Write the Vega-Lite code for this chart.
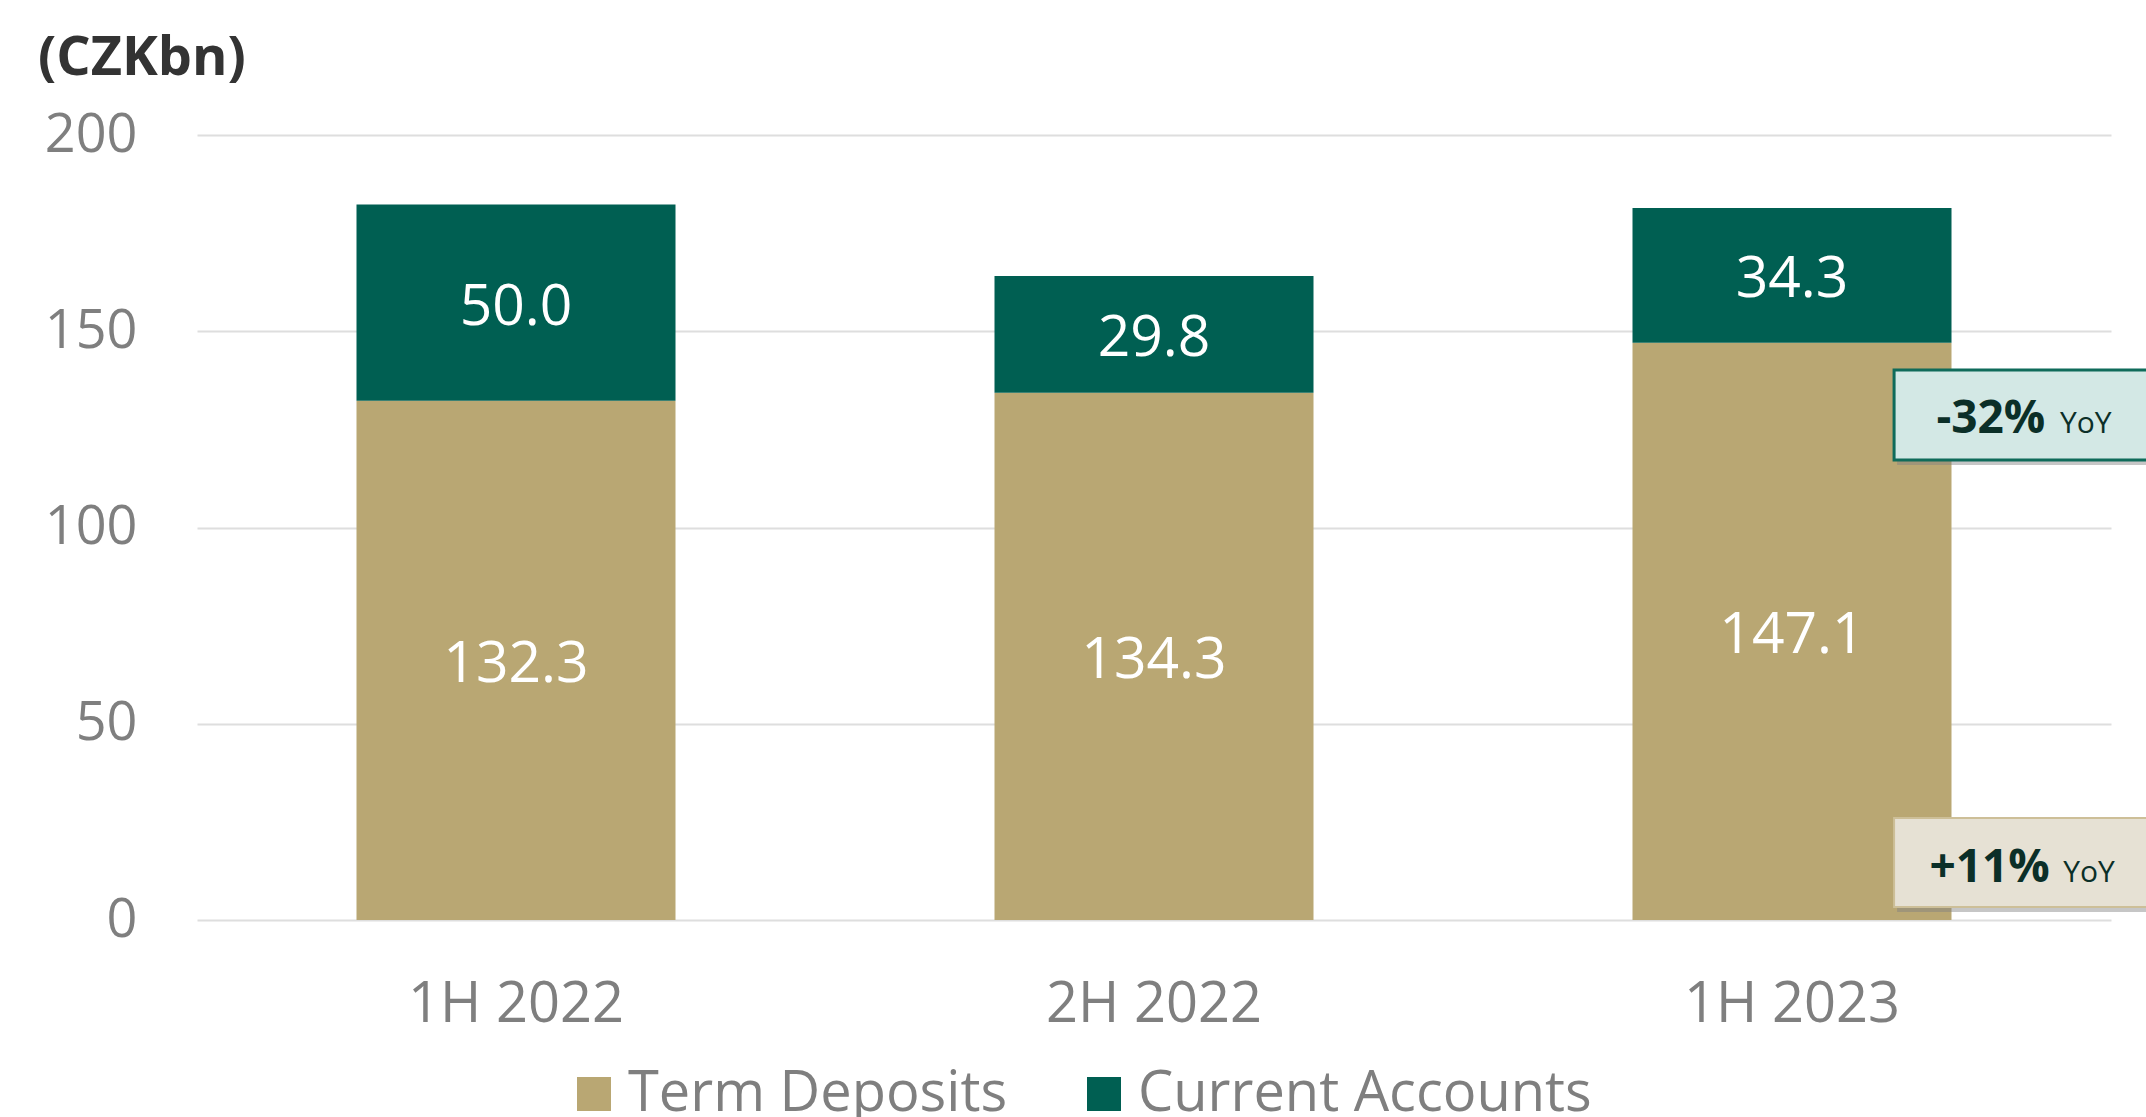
{
  "$schema": "https://vega.github.io/schema/vega-lite/v6.json",
  "width": 1914,
  "height": 785,
  "autosize": {"type": "none"},
  "padding": {"left": 197, "top": 135, "right": 35, "bottom": 197},
  "background": "white",
  "config": {
    "view": {"stroke": null},
    "font": "Open Sans",
    "text": {"font": "Open Sans"}
  },
  "title": {
    "text": "(CZKbn)",
    "anchor": "start",
    "frame": "group",
    "orient": "top",
    "dx": -159,
    "offset": 22,
    "fontSize": 54,
    "fontWeight": "bold",
    "font": "Open Sans",
    "color": "#333333"
  },
  "layer": [
    {
      "data": {
        "values": [
          {"period": "1H 2022", "series": "Term Deposits", "value": 132.3, "ord": 1},
          {"period": "1H 2022", "series": "Current Accounts", "value": 50.0, "ord": 2},
          {"period": "2H 2022", "series": "Term Deposits", "value": 134.3, "ord": 1},
          {"period": "2H 2022", "series": "Current Accounts", "value": 29.8, "ord": 2},
          {"period": "1H 2023", "series": "Term Deposits", "value": 147.1, "ord": 1},
          {"period": "1H 2023", "series": "Current Accounts", "value": 34.3, "ord": 2}
        ]
      },
      "transform": [
        {"stack": "value", "groupby": ["period"], "sort": [{"field": "ord", "order": "ascending"}], "as": ["v0", "v1"]},
        {"calculate": "(datum.v0 + datum.v1) / 2", "as": "vmid"}
      ],
      "encoding": {
        "x": {
          "field": "period",
          "type": "nominal",
          "sort": ["1H 2022", "2H 2022", "1H 2023"],
          "scale": {"paddingInner": 0.5, "paddingOuter": 0.25},
          "axis": {
            "title": null,
            "labelAngle": 0,
            "domain": false,
            "ticks": false,
            "labelFontSize": 56,
            "labelFont": "Open Sans",
            "labelColor": "#7f7f7f",
            "labelPadding": 57,
            "labelLimit": 1000
          }
        }
      },
      "layer": [
        {
          "mark": {"type": "bar"},
          "encoding": {
            "y": {
              "field": "v0",
              "type": "quantitative",
              "scale": {"domain": [0, 200], "nice": false},
              "axis": {
                "title": null,
                "values": [0, 50, 100, 150, 200],
                "domain": false,
                "ticks": false,
                "grid": true,
                "gridColor": "#dedede",
                "gridWidth": 2,
                "labelFontSize": 54,
                "labelFont": "Open Sans",
                "labelColor": "#7f7f7f",
                "labelPadding": 60,
                "labelLimit": 1000
              }
            },
            "y2": {"field": "v1"},
            "color": {
              "field": "series",
              "type": "nominal",
              "scale": {"domain": ["Term Deposits", "Current Accounts"], "range": ["#B9A773", "#005F52"]},
              "legend": {
                "title": null,
                "orient": "none",
                "legendX": 369,
                "legendY": 931,
                "direction": "horizontal",
                "symbolType": "square",
                "symbolSize": 1156,
                "symbolStrokeWidth": 0,
                "labelFontSize": 56,
                "labelFont": "Open Sans",
                "labelColor": "#7f7f7f",
                "labelOffset": 6,
                "columnPadding": 68,
                "labelLimit": 1000
              }
            }
          }
        },
        {
          "mark": {"type": "text", "color": "white", "fontSize": 57, "font": "Open Sans", "baseline": "middle", "align": "center", "dy": 5},
          "encoding": {
            "y": {"field": "vmid", "type": "quantitative"},
            "text": {"field": "value", "type": "quantitative", "format": ".1f"}
          }
        }
      ]
    },
    {
      "layer": [
        {
          "data": {"values": [{"change": "-32%", "unit": "YoY"}]},
          "layer": [
            {
              "mark": {"type": "rect", "fill": "#808080", "opacity": 0.45, "xOffset": 3, "yOffset": 5},
              "encoding": {
                "x": {"datum": 2.66, "type": "quantitative", "scale": {"domain": [0, 3], "nice": false, "zero": false}, "axis": null},
                "x2": {"datum": 3.3},
                "y": {"datum": 117.2, "type": "quantitative"},
                "y2": {"datum": 140.1}
              }
            },
            {
              "mark": {"type": "rect", "fill": "#D3E8E5", "stroke": "#0F6B5A", "strokeWidth": 3},
              "encoding": {
                "x": {"datum": 2.66, "type": "quantitative"},
                "x2": {"datum": 3.3},
                "y": {"datum": 117.2, "type": "quantitative"},
                "y2": {"datum": 140.1}
              }
            },
            {
              "mark": {"type": "text", "align": "right", "baseline": "alphabetic", "fontSize": 46, "fontWeight": "bold", "color": "#0B2F28", "font": "Open Sans"},
              "encoding": {
                "x": {"datum": 2.897, "type": "quantitative"},
                "y": {"datum": 124.1, "type": "quantitative"},
                "text": {"field": "change"}
              }
            },
            {
              "mark": {"type": "text", "align": "left", "baseline": "alphabetic", "fontSize": 30, "color": "#0B2F28", "font": "Open Sans"},
              "encoding": {
                "x": {"datum": 2.92, "type": "quantitative"},
                "y": {"datum": 124.1, "type": "quantitative"},
                "text": {"field": "unit"}
              }
            }
          ]
        },
        {
          "data": {"values": [{"change": "+11%", "unit": "YoY"}]},
          "layer": [
            {
              "mark": {"type": "rect", "fill": "#808080", "opacity": 0.45, "xOffset": 3, "yOffset": 5},
              "encoding": {
                "x": {"datum": 2.66, "type": "quantitative"},
                "x2": {"datum": 3.3},
                "y": {"datum": 3.3, "type": "quantitative"},
                "y2": {"datum": 26.0}
              }
            },
            {
              "mark": {"type": "rect", "fill": "#E6E1D4", "stroke": "#CDBF98", "strokeWidth": 2},
              "encoding": {
                "x": {"datum": 2.66, "type": "quantitative"},
                "x2": {"datum": 3.3},
                "y": {"datum": 3.3, "type": "quantitative"},
                "y2": {"datum": 26.0}
              }
            },
            {
              "mark": {"type": "text", "align": "right", "baseline": "alphabetic", "fontSize": 46, "fontWeight": "bold", "color": "#0B2F28", "font": "Open Sans"},
              "encoding": {
                "x": {"datum": 2.904, "type": "quantitative"},
                "y": {"datum": 9.7, "type": "quantitative"},
                "text": {"field": "change"}
              }
            },
            {
              "mark": {"type": "text", "align": "left", "baseline": "alphabetic", "fontSize": 30, "color": "#0B2F28", "font": "Open Sans"},
              "encoding": {
                "x": {"datum": 2.925, "type": "quantitative"},
                "y": {"datum": 9.7, "type": "quantitative"},
                "text": {"field": "unit"}
              }
            }
          ]
        }
      ]
    }
  ],
  "resolve": {"scale": {"x": "independent"}}
}
